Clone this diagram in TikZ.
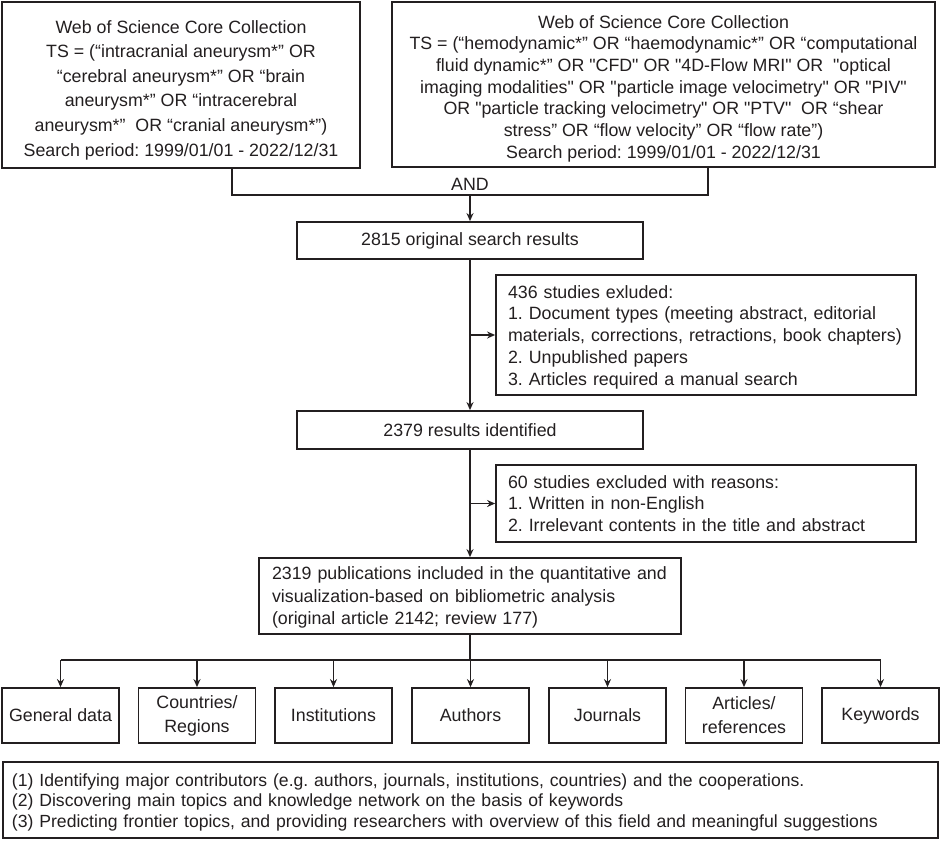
\documentclass[tikz,border=0pt]{standalone}
\usepackage{fontspec}
\setmainfont{Liberation Sans}[Ligatures=TeXOff]
\usetikzlibrary{arrows.meta,calc}
\definecolor{ink}{HTML}{231F20}
\frenchspacing
\begin{document}
\begin{tikzpicture}[x=1pt,y=-1pt,
  box/.style={draw=ink, line width=1.8pt, inner sep=0pt, text=ink, font=\fontsize{17.8}{21.7}\selectfont\frenchspacing},
  leaf/.style={box, minimum width=117pt, minimum height=55pt, align=center, font=\fontsize{17.8}{24}\selectfont},
  conn/.style={draw=ink, line width=1.8pt},
  arr/.style={conn, -{Stealth[length=8pt,width=7pt]}}]
\fill[white] (0,0) rectangle (941,841);
\useasboundingbox (0,0) rectangle (941,841);

\node[box, minimum width=358pt, minimum height=166pt, align=center, font=\fontsize{17.8}{24.6}\selectfont] (b1) at (181,85)
 {\rule{0pt}{23pt}Web of Science Core Collection\\TS = (“intracranial aneurysm*” OR\\“cerebral aneurysm*” OR “brain\\aneurysm*” OR “intracerebral\\aneurysm*”\ \ OR “cranial aneurysm*”)\\Search period: 1999/01/01 - 2022/12/31};

\node[box, minimum width=543pt, minimum height=165pt, align=center, font=\fontsize{17.8}{21.7}\selectfont] (b2) at (663.5,84.5)
 {\rule{0pt}{21pt}Web of Science Core Collection\\TS = (“hemodynamic*” OR “haemodynamic*” OR “computational\\fluid dynamic*” OR "CFD" OR "4D-Flow MRI" OR\ \ "optical\\imaging modalities" OR "particle image velocimetry" OR "PIV"\\OR "particle tracking velocimetry" OR "PTV"\ \ OR “shear\\stress” OR “flow velocity” OR “flow rate”)\\Search period: 1999/01/01 - 2022/12/31};

\coordinate (jl) at (232,195);
\coordinate (jm) at (470,195);
\coordinate (jr) at (708,195);
\node[text=ink, font=\fontsize{17.8}{21.7}\selectfont, inner sep=0pt] (and) at (470,184) {AND};

\node[box, minimum width=346pt, minimum height=37pt] (r1) at (470,240.5) {2815 original search results};
\node[box, minimum width=420pt, minimum height=120pt, text width=396pt, inner xsep=12pt, align=left] (ex1) at (706,335)
 {\rule{0pt}{17pt}436 studies exluded:\\1. Document types (meeting abstract, editorial\\materials, corrections, retractions, book chapters)\\2. Unpublished papers\\3. Articles required a manual search};
\node[box, minimum width=346pt, minimum height=38pt] (r2) at (470,430) {2379 results identified};
\node[box, minimum width=420pt, minimum height=77pt, text width=396pt, inner xsep=12pt, align=left] (ex2) at (706,503.5)
 {60 studies excluded with reasons:\\1. Written in non-English\\2. Irrelevant contents in the title and abstract};
\node[box, minimum width=422pt, minimum height=76pt, text width=396pt, inner xsep=13pt, align=left, font=\fontsize{17.8}{22.5}\selectfont] (r3) at (470,596)
 {\rule{0pt}{16pt}2319 publications included in the quantitative and\\visualization-based on bibliometric analysis\\(original article 2142; review 177)};

\coordinate (bus) at (470,660);
\node[leaf] (l1) at (60.5,715.5) {General data};
\node[leaf] (l2) at (197,715.5) {Countries/\\Regions};
\node[leaf] (l3) at (333.5,715.5) {Institutions};
\node[leaf] (l4) at (470.5,715.5) {Authors};
\node[leaf] (l5) at (607.5,715.5) {Journals};
\node[leaf] (l6) at (744,715.5) {Articles/\\references};
\node[leaf] (l7) at (880.5,715.5) {Keywords};

\node[box, minimum width=935pt, minimum height=76pt, text width=917pt, inner xsep=9pt, align=left, font=\fontsize{17.6}{20.5}\selectfont] (sum) at (470.5,800)
 {\rule{0pt}{17pt}(1) Identifying major contributors (e.g. authors, journals, institutions, countries) and the cooperations.\\(2) Discovering main topics and knowledge network on the basis of keywords\\(3) Predicting frontier topics, and providing researchers with overview of this field and meaningful suggestions};

\draw[conn] (b1.south -| jl) -- (jl) -- (jr) -- (b2.south -| jr);
\draw[arr] (jm) -- (r1.north);
\draw[arr] (r1.south) -- (r2.north);
\draw[arr] (r1.south |- ex1.west) -- (ex1.west);
\draw[arr] (r2.south) -- (r3.north);
\draw[arr] (r2.south |- ex2.west) -- (ex2.west);
\draw[conn] (r3.south) -- (bus);
\draw[conn] (l1.north |- bus) -- (l7.north |- bus);
\foreach \n in {l1,l2,l3,l4,l5,l6,l7} \draw[arr] (\n.north |- bus) -- (\n.north);
\end{tikzpicture}
\end{document}
